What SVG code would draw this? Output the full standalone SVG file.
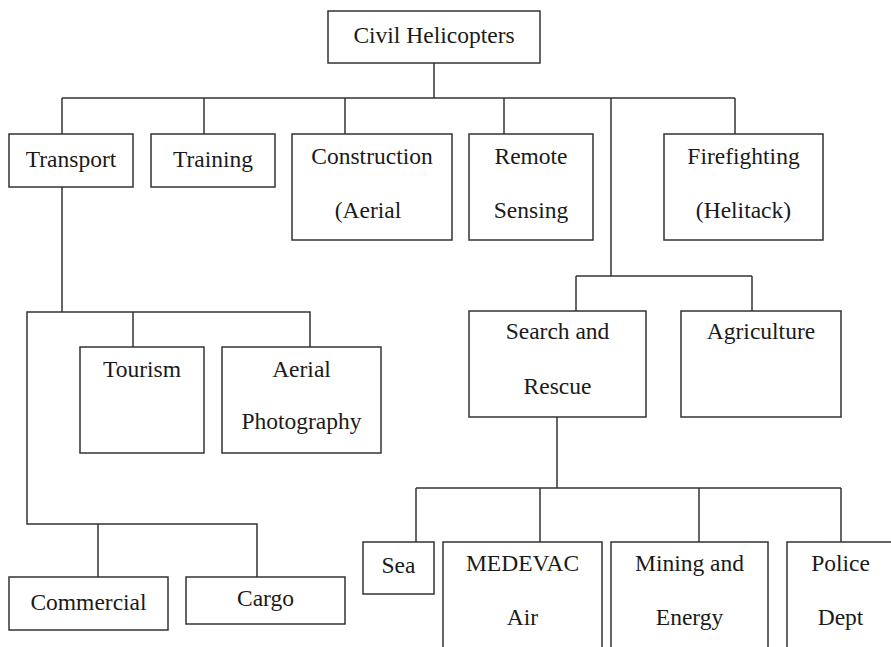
<svg xmlns="http://www.w3.org/2000/svg" width="891" height="647" viewBox="0 0 891 647">
<style>
rect{fill:#fff;stroke:#333;stroke-width:1.5}
.c line,.c polyline{stroke:#333;stroke-width:1.5;fill:none}
text{font-family:"Liberation Serif","Times New Roman",serif;font-size:23.5px;fill:#1a1a1a;text-anchor:middle}
</style>
<rect x="0" y="0" width="891" height="647" style="stroke:none"/>
<g class="c" id="connectors">
<line x1="434" y1="63" x2="434" y2="98"/>
<line x1="62" y1="98" x2="735" y2="98"/>
<line x1="62" y1="98" x2="62" y2="134"/>
<line x1="204" y1="98" x2="204" y2="134"/>
<line x1="345" y1="98" x2="345" y2="134"/>
<line x1="504" y1="98" x2="504" y2="134"/>
<line x1="735" y1="98" x2="735" y2="134"/>
<line x1="611" y1="98" x2="611" y2="276"/>
<line x1="576" y1="276" x2="752" y2="276"/>
<line x1="576" y1="276" x2="576" y2="311"/>
<line x1="752" y1="276" x2="752" y2="311"/>
<line x1="62" y1="187" x2="62" y2="312"/>
<polyline points="310,347 310,312 27,312 27,524 257,524 257,577"/>
<line x1="133" y1="312" x2="133" y2="347"/>
<line x1="98" y1="524" x2="98" y2="577"/>
<line x1="557" y1="417" x2="557" y2="488"/>
<line x1="416" y1="488" x2="841" y2="488"/>
<line x1="416" y1="488" x2="416" y2="542"/>
<line x1="540" y1="488" x2="540" y2="542"/>
<line x1="699" y1="488" x2="699" y2="542"/>
<line x1="841" y1="488" x2="841" y2="542"/>
</g>
<g id="root"><rect x="328" y="11" width="212" height="52"/><text x="434" y="43">Civil Helicopters</text></g>
<g id="transport"><rect x="9" y="134" width="124" height="53"/><text x="71" y="167">Transport</text></g>
<g id="training"><rect x="151" y="134" width="124" height="53"/><text x="213" y="167">Training</text></g>
<g id="construction"><rect x="292" y="134" width="160" height="106"/><text x="372" y="164">Construction</text><text x="368" y="218">(Aerial</text></g>
<g id="remote"><rect x="469" y="134" width="124" height="106"/><text x="531" y="164">Remote</text><text x="531" y="218">Sensing</text></g>
<g id="firefighting"><rect x="664" y="134" width="159" height="106"/><text x="743.5" y="164">Firefighting</text><text x="743.5" y="218">(Helitack)</text></g>
<g id="sar"><rect x="469" y="311" width="177" height="106"/><text x="557.5" y="339">Search and</text><text x="557.5" y="394">Rescue</text></g>
<g id="agriculture"><rect x="681" y="311" width="160" height="106"/><text x="761" y="339">Agriculture</text></g>
<g id="tourism"><rect x="80" y="347" width="124" height="106"/><text x="142" y="377">Tourism</text></g>
<g id="aerial"><rect x="222" y="347" width="159" height="106"/><text x="301.5" y="377">Aerial</text><text x="301.5" y="429">Photography</text></g>
<g id="commercial"><rect x="9" y="577" width="159" height="53"/><text x="88.5" y="610">Commercial</text></g>
<g id="cargo"><rect x="186" y="577" width="159" height="47"/><text x="265.5" y="606">Cargo</text></g>
<g id="sea"><rect x="363" y="542" width="71" height="52"/><text x="398.5" y="573">Sea</text></g>
<g id="medevac"><rect x="443" y="542" width="159" height="120"/><text x="522.5" y="571">MEDEVAC</text><text x="522.5" y="625">Air</text></g>
<g id="mining"><rect x="611" y="542" width="157" height="120"/><text x="689.5" y="571">Mining and</text><text x="689.5" y="625">Energy</text></g>
<g id="police"><rect x="787" y="542" width="120" height="120"/><text x="840.5" y="571">Police</text><text x="840.5" y="625">Dept</text></g>
</svg>
